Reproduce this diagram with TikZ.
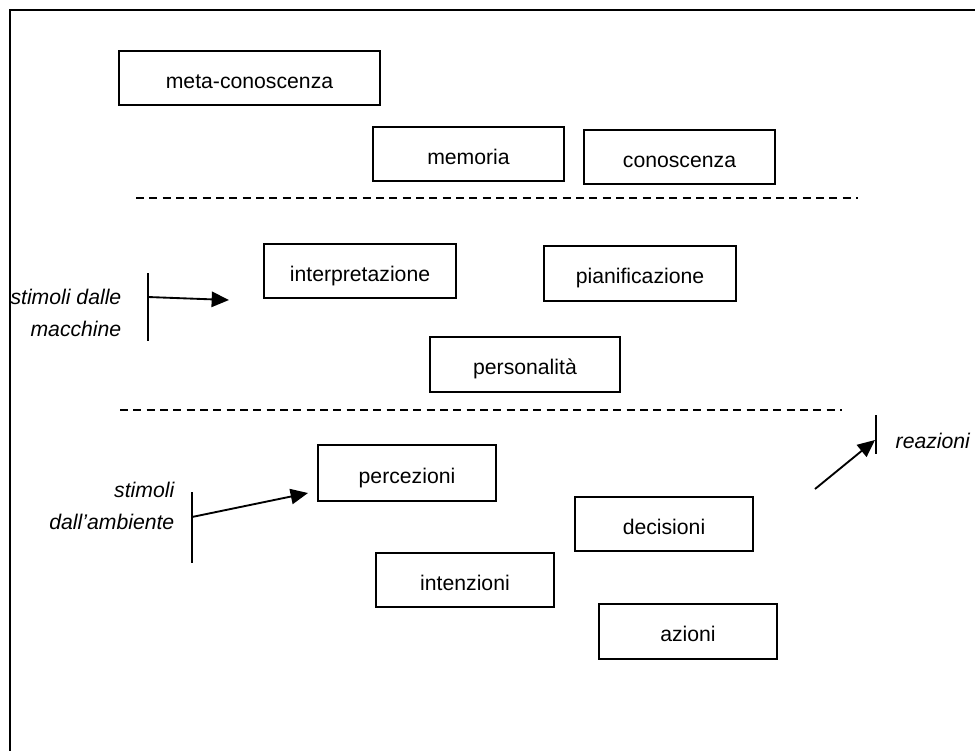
\documentclass[tikz,border=0pt]{standalone}
\usepackage{fontspec}
\setmainfont{Liberation Sans}
\usetikzlibrary{arrows.meta}

\tikzset{
  box/.style 2 args={draw, line width=1.4pt, inner sep=0pt,
    text height=15pt, text depth=0pt,
    minimum width=#1*0.75pt, minimum height=#2*0.75pt},
  layer/.style={line width=1.3pt, dash pattern=on 6pt off 4pt},
  stim/.style={font=\fontsize{15.9}{24}\selectfont\itshape},
  bar/.style={line width=1.4pt},
}

\begin{document}
\begin{tikzpicture}
      [x=0.75pt, y=-0.75pt, font=\fontsize{15.9}{24}\selectfont,
       >={Triangle[length=13pt, width=11.5pt]}]
      \useasboundingbox (0, 0) rectangle (975, 751);
      \draw[line width=1.6pt] (975, 10) -- (10, 10) -- (10, 751);

      % upper level
      \node[box={261}{54}] (meta) at (249.5, 78) {meta-conoscenza};
      \node[box={191}{54}] (memoria) at (468.5, 154) {memoria};
      \node[box={191}{54}] (conoscenza) at (679.5, 157) {conoscenza};

      \draw[layer] (136, 198) -- (858, 198);

      % middle level
      \node[box={192}{54}] (interp) at (360, 271) {interpretazione};
      \node[box={192}{55}] (pianif) at (640, 273.5) {pianificazione};
      \node[box={190}{55}] (person) at (525, 364.5) {personalità};

      \draw[layer] (120, 410) -- (842, 410);

      % lower level
      \node[box={178}{56}] (percez) at (407, 473) {percezioni};
      \node[box={178}{54}] (decis) at (664, 524) {decisioni};
      \node[box={178}{54}] (intenz) at (465, 580) {intenzioni};
      \node[box={178}{55}] (azioni) at (688, 631.5) {azioni};

      % stimuli coming in
      \node[stim, align=right, anchor=east] (macch) at (126, 313) {stimoli dalle\\macchine};
      \coordinate (macchTop) at (148, 273);
      \coordinate (macchBot) at (148, 341);
      \coordinate (macchIn) at (148, 297);
      \coordinate (macchTip) at (229, 300);
      \draw[bar] (macchTop) -- (macchBot);
      \draw[->, line width=1.4pt] (macchIn) -- (macchTip);

      \node[stim, align=right, anchor=east] (amb) at (179, 506) {stimoli\\dall’ambiente};
      \coordinate (ambTop) at (192, 492);
      \coordinate (ambBot) at (192, 563);
      \coordinate (ambIn) at (192, 517);
      \coordinate (ambTip) at (308, 493);
      \draw[bar] (ambTop) -- (ambBot);
      \draw[->, line width=1.4pt] (ambIn) -- (ambTip);

      % reactions going out
      \node[stim, anchor=west] (reaz) at (891, 441) {reazioni};
      \coordinate (reazTop) at (876, 415);
      \coordinate (reazBot) at (876, 454);
      \coordinate (reazOut) at (815, 489);
      \coordinate (reazTip) at (875, 440);
      \draw[bar] (reazTop) -- (reazBot);
      \draw[->, line width=1.4pt] (reazOut) -- (reazTip);
\end{tikzpicture}
\end{document}
